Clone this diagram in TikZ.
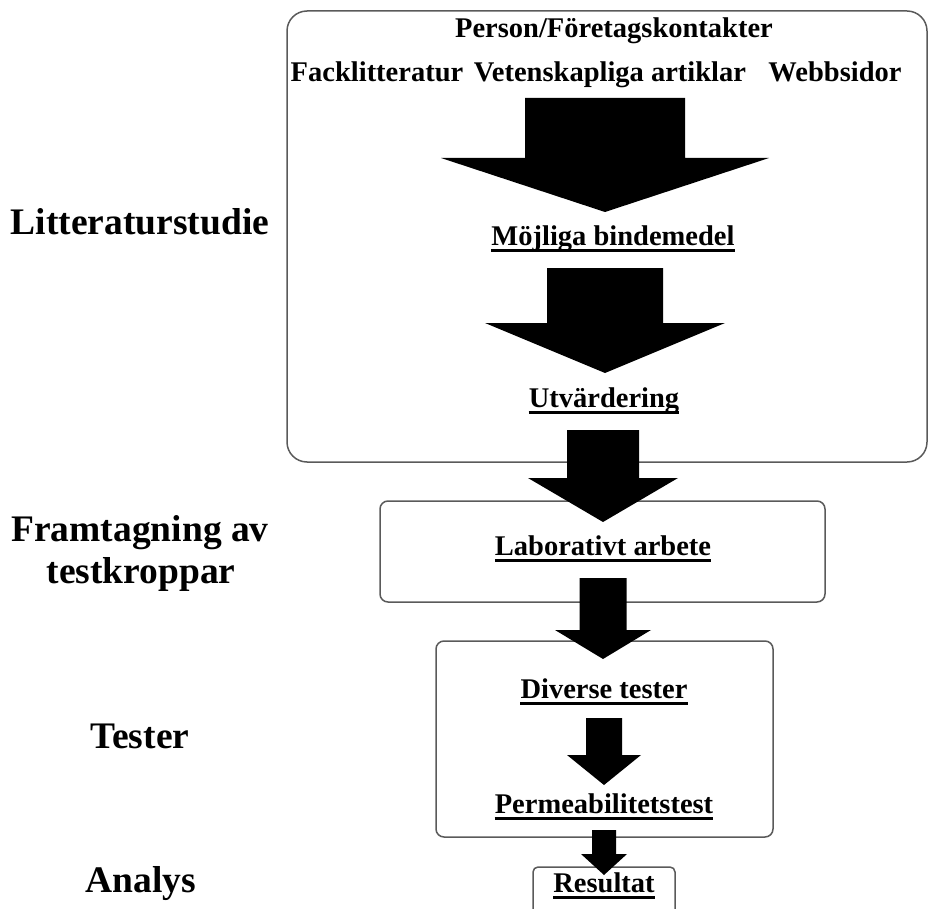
\documentclass[tikz,border=0pt]{standalone}
\usepackage{fontspec}
\setmainfont{Liberation Serif}
\definecolor{boxgray}{HTML}{5A5A5A}
% filled block arrow: x, top, shoulder, tip, half shaft, half head
\newcommand{\blockarrow}[6]{%
  \fill[black] (#1-#5,#2) -- (#1+#5,#2) -- (#1+#5,#3) -- (#1+#6,#3) -- (#1,#4)
    -- (#1-#6,#3) -- (#1-#5,#3) -- cycle;}
\begin{document}
\begin{tikzpicture}[x=1pt, y=-1pt,
    stage/.style={inner sep=0pt, anchor=base, font=\fontsize{37.5}{42}\selectfont\bfseries},
    item/.style={inner sep=0pt, anchor=base, font=\fontsize{28.5}{34}\selectfont\bfseries},
    frame/.style={draw=boxgray, line width=1.5pt}]
    \useasboundingbox (0,0) rectangle (928,909);
    % boxes
    \draw[frame, rounded corners=20pt] (287,11) rectangle (927,462);
    \draw[frame, rounded corners=8pt] (380,501) rectangle (825,602);
    \draw[frame, rounded corners=8pt] (436,641) rectangle (773,837);
    \draw[frame, rounded corners=5pt] (533,909) -- (533,867) -- (675,867) -- (675,909);
    % stage names
    \node[stage] (lit) at (140,235) {Litteraturstudie};
    \node[stage] (fram) at (140,541) {Framtagning av};
    \node[stage] (kropp) at (141,583) {testkroppar};
    \node[stage] (test) at (140,748) {Tester};
    \node[stage] (ana) at (141,892) {Analys};
    % sources
    \node[item] (pers) at (614,38) {Person/Företagskontakter};
    \node[item] (fack) at (377,82) {Facklitteratur};
    \node[item] (vet) at (610,82) {Vetenskapliga artiklar};
    \node[item] (webb) at (835,82) {Webbsidor};
    % steps
    \node[item] (bind) at (613,245) {Möjliga bindemedel};
    \node[item] (utv) at (604,407) {Utvärdering};
    \node[item] (lab) at (603,555) {Laborativt arbete};
    \node[item] (div) at (604,698) {Diverse tester};
    \node[item] (perm) at (604,813) {Permeabilitetstest};
    \node[item] (res) at (604,892) {Resultat};
    \foreach \n in {bind,utv,lab,div,perm,res}
        \draw[line width=2.5pt] ([yshift=-5.5pt]\n.base west) -- ([yshift=-5.5pt]\n.base east);
    % arrows
    \blockarrow{605}{98}{158}{212}{80}{164}
    \blockarrow{605}{268}{323}{373}{58}{120}
    \blockarrow{603}{430}{478}{522}{36}{75}
    \blockarrow{603}{578}{630}{659}{23.5}{48}
    \blockarrow{604}{718}{755}{785}{18}{37}
    \blockarrow{604}{830}{854}{875}{12}{23}
\end{tikzpicture}
\end{document}
